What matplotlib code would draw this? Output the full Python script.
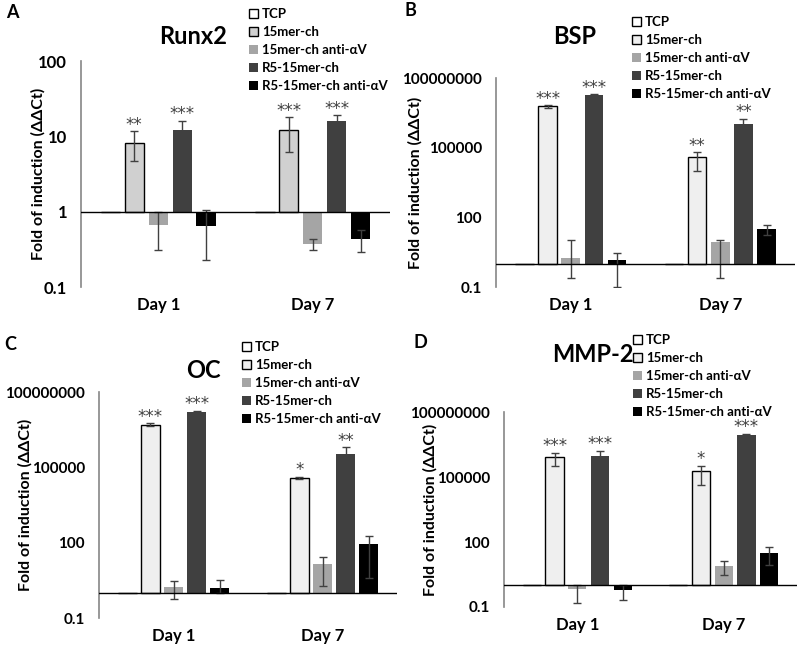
import numpy as np
import matplotlib
matplotlib.use('Agg')
import matplotlib.pyplot as plt

plt.rcParams['font.family'] = ['Lato', 'DejaVu Sans']

groups = ['Day 1', 'Day 7']
series = ['TCP', '15mer-ch', '15mer-ch anti-αV', 'R5-15mer-ch', 'R5-15mer-ch anti-αV']

# --- Runx2 (A) ---
runx2_mean = [[1, 1], [8.2, 12.1], [0.66, 0.37], [12.0, 16.2], [0.64, 0.43]]
runx2_lo = [None, [4.7, 6.2], [0.31, 0.31], [9.0, 13.5], [0.23, 0.29]]
runx2_hi = [None, [11.7, 17.9], [1.0, 0.43], [16.2, 19.2], [1.05, 0.57]]
runx2_stars = [None, ['**', '***'], None, ['***', '***'], None]

# --- BSP (B) ---
bsp_mean = [[1, 1], [6.0e6, 3.9e4], [1.78, 8.9], [1.8e7, 1.0e6], [1.5, 32]]
bsp_lo = [None, [5.0e6, 1.0e4], [0.25, 0.25], [1.55e7, 7e5], [0.1, 17]]
bsp_hi = [None, [6.8e6, 6.3e4], [11, 11], [2.0e7, 1.8e6], [2.9, 49]]
bsp_stars = [None, ['***', '**'], None, ['***', '**'], None]

# --- OC (C) ---
oc_mean = [[1, 1], [5.0e6, 3.8e4], [1.7, 14.5], [1.56e7, 3.5e5], [1.57, 86]]
oc_lo = [None, [4.4e6, 3.3e4], [0.59, 1.8], [1.35e7, 1.6e5], [0.95, 3.9]]
oc_hi = [None, [5.7e6, 4.3e4], [2.9, 27], [1.8e7, 6.3e5], [3.4, 178]]
oc_stars = [None, ['***', '*'], None, ['***', '**'], None]

# --- MMP-2 (D) ---
mmp_mean = [[1, 1], [8.1e5, 1.8e5], [0.68, 7.8], [9.3e5, 8.7e6], [0.59, 32]]
mmp_lo = [None, [3.3e5, 4.5e4], [0.15, 3.1], [4.5e5, 7.6e6], [0.22, 8.9]]
mmp_hi = [None, [1.3e6, 3.3e5], [1.07, 14], [1.66e6, 1.0e7], [1.0, 56]]
mmp_stars = [None, ['***', '*'], None, ['***', '***'], None]

small_ticks = [0.1, 1, 10, 100]
small_labels = ['0.1', '1', '10', '100']
big_ticks = [0.1, 100, 1e5, 1e8]
big_labels = ['0.1', '100', '100000', '100000000']

W, H = 800, 648
fig = plt.figure(figsize=(W / 100, H / 100), dpi=100)


def add_ax(l, r, t, b):
    return fig.add_axes([l / W, 1 - b / H, (r - l) / W, (b - t) / H])


def draw_panel(ax, mean, lo, hi, stars, light, yticks, ylabels, title, title_xy,
               letter, letter_xy, leg_xy, tick_fs, ylab_x):
    colors = ['white', light, '#a5a5a5', '#404040', '#000000']
    edges = ['black', 'black', 'none', 'none', 'none']
    x = np.arange(len(groups))
    step, width = 0.155, 0.125
    for i in range(len(series)):
        xi = x + (i - 2) * step
        m = np.array(mean[i], dtype=float)
        ax.bar(xi, m - 1, bottom=1, width=width, color=colors[i],
               edgecolor=edges[i], linewidth=1, label=series[i], zorder=2)
        if lo[i] is not None:
            ax.errorbar(xi, m, yerr=[m - np.array(lo[i]), np.array(hi[i]) - m],
                        fmt='none', ecolor='#404040', elinewidth=1, capsize=3,
                        capthick=1, zorder=3)
        if stars[i] is not None:
            for xx, hh, s in zip(xi, hi[i], stars[i]):
                ax.annotate(s, (xx, hh), xytext=(0, 1), textcoords='offset points',
                            ha='center', va='baseline', fontsize=12,
                            color='#404040', family='DejaVu Sans')
    ax.set_yscale('log')
    ax.set_ylim(yticks[0], yticks[-1])
    ax.set_xlim(-0.5, 1.5)
    ax.axhline(1, color='black', lw=1, zorder=4)
    ax.set_yticks(yticks, ylabels)
    ax.minorticks_off()
    ax.set_xticks(x, groups)
    ax.tick_params(length=0, labelsize=tick_fs)
    ax.tick_params(axis='x', pad=7, labelsize=12)
    ax.tick_params(axis='y', pad=10)
    for lab in ax.get_xticklabels() + ax.get_yticklabels():
        lab.set_fontweight('bold')
    for s in ['top', 'right', 'bottom']:
        ax.spines[s].set_visible(False)
    ax.spines['left'].set_color('#868686')
    ax.spines['left'].set_linewidth(1.2)
    ax.set_ylabel('Fold of induction (ΔΔCt)', fontsize=11.5, fontweight='bold',
                  va='center')
    ax.yaxis.set_label_coords(ylab_x, 0.5)
    ax.patch.set_alpha(0)
    fig.text(title_xy[0] / W, 1 - title_xy[1] / H, title, fontsize=17,
             fontweight='bold', ha='center', va='center')
    fig.text(letter_xy[0] / W, 1 - letter_xy[1] / H, letter, fontsize=13,
             fontweight='bold', ha='left', va='center')
    ax.legend(loc='upper left', bbox_to_anchor=(leg_xy[0] / W, 1 - leg_xy[1] / H),
              bbox_transform=fig.transFigure, frameon=False,
              prop={'weight': 'bold', 'size': 9.5}, handlelength=0.7,
              handleheight=0.7, handletextpad=0.3, labelspacing=0.45,
              borderaxespad=0, borderpad=0)


axA = add_ax(81, 390, 61, 287)
draw_panel(axA, runx2_mean, runx2_lo, runx2_hi, runx2_stars, '#d0d0d0',
           small_ticks, small_labels, 'Runx2', (193, 37), 'A', (6, 13),
           (249, 8), 12, -0.139)

axB = add_ax(496, 795, 78, 287)
draw_panel(axB, bsp_mean, bsp_lo, bsp_hi, bsp_stars, '#efefef',
           big_ticks, big_labels, 'BSP', (575, 36), 'B', (405, 10),
           (632, 16), 11, -0.271)

axC = add_ax(99, 397, 392, 618)
draw_panel(axC, oc_mean, oc_lo, oc_hi, oc_stars, '#efefef',
           big_ticks, big_labels, 'OC', (203, 370), 'C', (4, 345),
           (242, 341), 11, -0.248)

axD = add_ax(504, 797, 412, 607)
draw_panel(axD, mmp_mean, mmp_lo, mmp_hi, mmp_stars, '#efefef',
           big_ticks, big_labels, 'MMP-2', (593, 355), 'D', (414, 343),
           (633, 334), 11, -0.25)

fig.savefig('out.png', dpi=100)
